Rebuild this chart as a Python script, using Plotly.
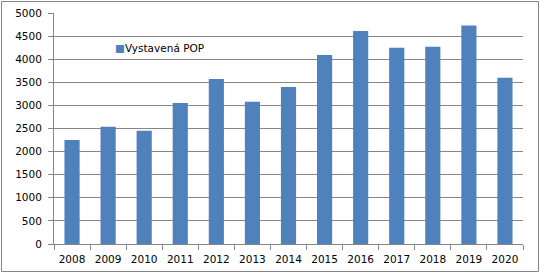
import plotly.graph_objects as go

years = ["2008", "2009", "2010", "2011", "2012", "2013", "2014",
         "2015", "2016", "2017", "2018", "2019", "2020"]
values = [2250, 2540, 2450, 3050, 3570, 3080, 3400,
          4090, 4610, 4250, 4270, 4730, 3600]
series_name = "Vystavená POP"
bar_color = "#4F81BD"

W, H = 540, 273
L, R, T, B = 54, 17, 13, 29
pw, ph = W - L - R, H - T - B

fig = go.Figure(go.Bar(x=years, y=values, name=series_name,
                       marker=dict(color=bar_color, line=dict(width=0))))

def px_to_paper_x(px):
    return (px - L) / pw

def px_to_paper_y(py):
    return (H - B - py) / ph

fig.update_layout(
    width=W, height=H,
    margin=dict(l=L, r=R, t=T, b=B, autoexpand=False),
    paper_bgcolor="white", plot_bgcolor="white",
    font=dict(family="DejaVu Sans", size=10.5, color="#000000"),
    bargap=0.58,
    showlegend=False,
    xaxis=dict(type="category", showgrid=False, showline=True, linecolor="#868686",
               ticks="outside", tickson="boundaries", ticklen=5, tickcolor="#868686",
               tickangle=0, ticklabelstandoff=5, tickfont=dict(size=10.5)),
    yaxis=dict(range=[0, 5000], dtick=500, showgrid=True, gridcolor="#868686",
               gridwidth=1, showline=True, linecolor="#868686", ticks="outside",
               ticklen=5, tickcolor="#868686", zeroline=False,
               ticklabelstandoff=4, tickfont=dict(size=10.5)),
    annotations=[dict(xref="paper", yref="paper", x=px_to_paper_x(113), y=px_to_paper_y(48),
                      xanchor="left", yanchor="middle", showarrow=False,
                      text=f"<span style='color:{bar_color}'>■</span>{series_name}",
                      font=dict(size=10.5))],
    shapes=[dict(type="rect", xref="paper", yref="paper",
                 x0=px_to_paper_x(1.5), x1=px_to_paper_x(W - 1.5),
                 y0=px_to_paper_y(H - 1.5), y1=px_to_paper_y(1.5),
                 line=dict(color="#868686", width=1), fillcolor="rgba(0,0,0,0)")],
)

fig.write_html("out.html")
